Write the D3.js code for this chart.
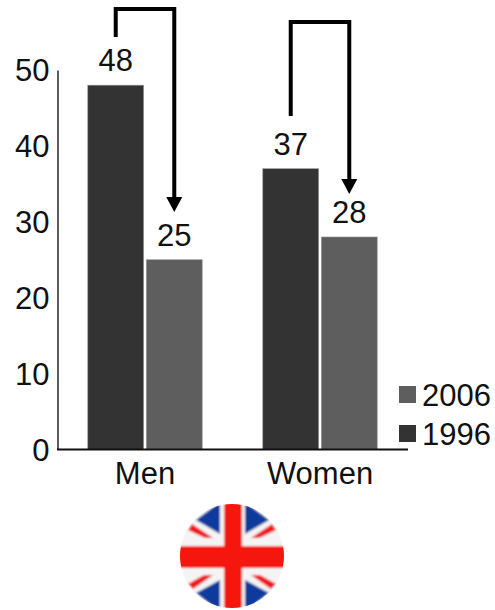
<!DOCTYPE html>
<html>
<head>
<meta charset="utf-8">
<script src="https://cdn.jsdelivr.net/npm/d3@7/dist/d3.min.js"></script>
<style>
  html, body { margin: 0; padding: 0; background: #fff; }
  svg { display: block; }
  text { font-family: "Liberation Sans", Arial, sans-serif; fill: #111; }
</style>
</head>
<body>
<svg id="chart" width="495" height="610"></svg>
<script>
const categories = ["Men", "Women"];
const years = ["1996", "2006"];
const values1996 = [48, 37];
const values2006 = [25, 28];
const yTicks = [0, 10, 20, 30, 40, 50];
const legendYears = ["2006", "1996"];
const arrowTopY = [9, 22];
const arrowStartY = [37, 116];
const arrowTipY = [212, 194];
const yearColors = { "1996": "#333333", "2006": "#5e5e5e" };

const svg = d3.select("#chart");
const fontSize = 31;

const y = d3.scaleLinear().domain([0, 50]).range([449.5, 70]);
const x0 = d3.scaleBand().domain(categories).range([57.5, 407.5]).paddingInner(0.346).paddingOuter(0.173);
const x1 = d3.scaleBand().domain(years).range([0, x0.bandwidth()]).paddingInner(0.045);

const rows = categories.map((c, i) => ({
  category: c,
  index: i,
  bars: [
    { year: "1996", value: values1996[i] },
    { year: "2006", value: values2006[i] }
  ]
}));

// Grouped bars with their value labels
const groups = svg.selectAll("g.group").data(rows).join("g")
  .attr("class", "group")
  .attr("transform", d => `translate(${x0(d.category)},0)`);

groups.selectAll("rect").data(d => d.bars).join("rect")
  .attr("x", d => x1(d.year))
  .attr("y", d => y(d.value))
  .attr("width", x1.bandwidth())
  .attr("height", d => y(0) - y(d.value))
  .attr("fill", d => yearColors[d.year])
  .attr("stroke", "#9a9a9a")
  .attr("stroke-width", 0.6);

groups.selectAll("text").data(d => d.bars).join("text")
  .attr("x", d => x1(d.year) + x1.bandwidth() / 2)
  .attr("y", d => y(d.value) - 14)
  .attr("text-anchor", "middle")
  .attr("font-size", fontSize)
  .text(d => d.value);

// Axes
const yAxis = svg.append("g").attr("transform", "translate(57.5,0)")
  .call(d3.axisLeft(y).tickValues(yTicks).tickSize(0).tickPadding(8));
yAxis.select(".domain").attr("stroke", "#333").attr("stroke-width", 1.6);
yAxis.selectAll("text").attr("font-size", fontSize).attr("dy", "0.34em").style("font-family", "'Liberation Sans', Arial, sans-serif");

const xAxis = svg.append("g").attr("transform", "translate(0,449.5)")
  .call(d3.axisBottom(x0).tickSize(0).tickPadding(12));
xAxis.select(".domain").attr("stroke", "#111").attr("stroke-width", 2)
  .attr("d", "M57,0H408");
xAxis.selectAll("text").attr("font-size", fontSize).style("font-family", "'Liberation Sans', Arial, sans-serif");

// Change arrows running from the 1996 label to the 2006 label
const arrowHead = 15;
const arrows = svg.selectAll("g.arrow").data(rows).join("g").attr("class", "arrow");
arrows.append("path")
  .attr("fill", "none")
  .attr("stroke", "#000")
  .attr("stroke-width", 4)
  .attr("stroke-linejoin", "miter")
  .attr("d", d => {
    const a = x0(d.category) + x1("1996") + x1.bandwidth() / 2;
    const b = x0(d.category) + x1("2006") + x1.bandwidth() / 2;
    return d3.line()([
      [a, arrowStartY[d.index]],
      [a, arrowTopY[d.index]],
      [b, arrowTopY[d.index]],
      [b, arrowTipY[d.index] - arrowHead]
    ]);
  });
arrows.append("path")
  .attr("fill", "#000")
  .attr("d", d => {
    const b = x0(d.category) + x1("2006") + x1.bandwidth() / 2;
    const tip = arrowTipY[d.index];
    return d3.line()([[b - 8, tip - arrowHead], [b + 8, tip - arrowHead], [b, tip]]) + "Z";
  });

// Legend
const legendY = d3.scalePoint().domain(legendYears).range([394.5, 433.5]);
const legend = svg.selectAll("g.legend").data(legendYears).join("g")
  .attr("class", "legend")
  .attr("transform", d => `translate(399,${legendY(d)})`);
legend.append("rect")
  .attr("y", -8.5).attr("width", 17).attr("height", 17)
  .attr("fill", d => yearColors[d]);
legend.append("text")
  .attr("x", 23).attr("dy", "0.36em")
  .attr("font-size", fontSize)
  .text(d => d);

// Round Union Jack badge under the chart
const cx = 232, cy = 556, r = 52;
const defs = svg.append("defs");
defs.append("clipPath").attr("id", "badge").append("circle").attr("cx", cx).attr("cy", cy).attr("r", r);
defs.append("filter").attr("id", "soft").append("feGaussianBlur").attr("stdDeviation", 0.9);
const flag = svg.append("g").attr("clip-path", "url(#badge)").append("g").attr("filter", "url(#soft)");
flag.append("rect").attr("x", cx - r - 3).attr("y", cy - r - 3).attr("width", 2 * r + 6).attr("height", 2 * r + 6).attr("fill", "#f4f4f4");

const blueTriangles = [
  [[-36, -36], [-12, -54], [-12, -22]],
  [[37, -36], [13, -54], [13, -22]],
  [[-36, 37], [-12, 56], [-12, 24]],
  [[37, 37], [13, 56], [13, 24]]
];
flag.selectAll("path.blue").data(blueTriangles).join("path")
  .attr("class", "blue")
  .attr("fill", "#0b3a9b")
  .attr("d", d => d3.line().x(p => cx + p[0]).y(p => cy + p[1])(d) + "Z");

const redDiagonals = [
  [[-44, -26], [-40, -32], [-19, -18], [-27, -18]],
  [[44, -26], [40, -32], [19, -18], [27, -18]],
  [[-44, 28], [-39, 33], [-19, 19], [-28, 19]],
  [[44, 28], [39, 33], [19, 19], [28, 19]]
];
flag.selectAll("path.red").data(redDiagonals).join("path")
  .attr("class", "red")
  .attr("fill", "#f0181a")
  .attr("d", d => d3.line().x(p => cx + p[0]).y(p => cy + p[1])(d) + "Z");

flag.append("rect").attr("x", cx - 8).attr("y", cy - r - 3).attr("width", 18).attr("height", 2 * r + 6).attr("fill", "#f5150f");
flag.append("rect").attr("x", cx - r - 3).attr("y", cy - 10).attr("width", 2 * r + 6).attr("height", 22).attr("fill", "#f5150f");
</script>
</body>
</html>
